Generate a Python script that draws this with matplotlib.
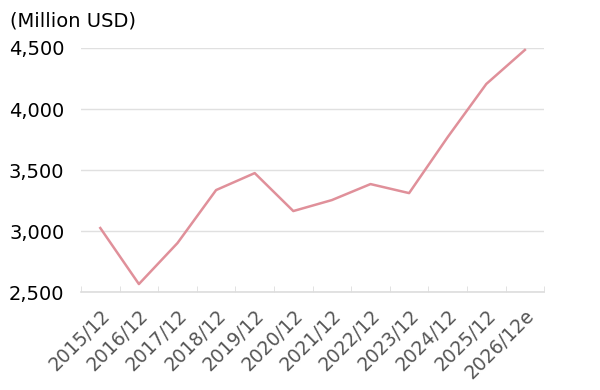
import matplotlib.pyplot as plt
import matplotlib.transforms as mtransforms
import numpy as np

periods = ['2015/12', '2016/12', '2017/12', '2018/12', '2019/12', '2020/12',
           '2021/12', '2022/12', '2023/12', '2024/12', '2025/12', '2026/12e']
values = [3025, 2566, 2902, 3336, 3475, 3164, 3254, 3385, 3311, 3770, 4205, 4484]
yticks = [2500, 3000, 3500, 4000, 4500]

plt.rcParams['font.family'] = ['Verdana', 'DejaVu Sans']

fig = plt.figure(figsize=(6, 3.9), dpi=100)
ax = fig.add_axes([0.135, 0.251, 0.772, 0.626])

x = np.arange(len(periods))
ax.plot(x, values, color='#e0909a', linewidth=1.8)

ax.set_xlim(-0.5, len(periods) - 0.5)
ax.set_ylim(2500, 4500)
ax.set_yticks(yticks)
ax.set_yticklabels([f'{v:,}' for v in yticks], fontsize=14)
ax.set_xticks(x)
ax.set_xticklabels(periods, rotation=45, ha='right', rotation_mode='anchor',
                   fontsize=13.5, color='#555555')
# shift the slanted labels a little to the right
shift = mtransforms.ScaledTranslation(5 / 100, 0, fig.dpi_scale_trans)
for lbl in ax.get_xticklabels():
    lbl.set_transform(lbl.get_transform() + shift)
ax.set_xticks(np.arange(-0.5, len(periods)), minor=True)
ax.tick_params(axis='x', which='major', length=0, pad=10)
ax.tick_params(axis='x', which='minor', length=4, direction='in', color='#dddddd')
ax.tick_params(axis='y', length=0, pad=12)

ax.grid(axis='y', color='#e0e0e0', linewidth=1)
for s in ['top', 'right', 'left']:
    ax.spines[s].set_visible(False)
ax.spines['bottom'].set_color('#dddddd')
ax.spines['bottom'].set_linewidth(1.2)

fig.text(0.017, 0.945, '(Million USD)', fontsize=14, va='center')

fig.savefig('out.png', dpi=100)
